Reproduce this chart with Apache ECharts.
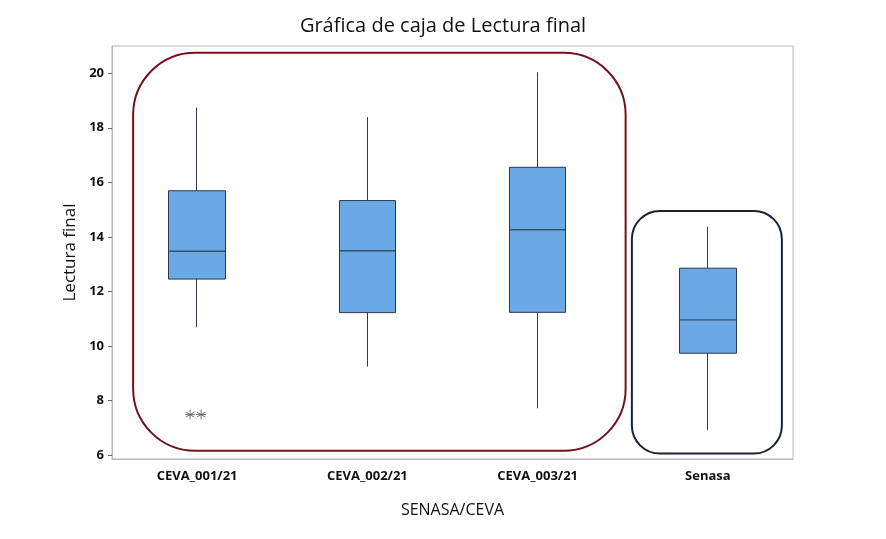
<!DOCTYPE html>
<html>
<head>
<meta charset="utf-8">
<script src="https://cdn.jsdelivr.net/npm/echarts@6/dist/echarts.min.js"></script>
<style>
  html, body { margin: 0; padding: 0; background: #fff; }
  #main { width: 886px; height: 539px; }
</style>
</head>
<body>
<div id="main"></div>
<script>
// categorias del eje X
var grupos = ['CEVA_001/21', 'CEVA_002/21', 'CEVA_003/21', 'Senasa'];
// [min, Q1, mediana, Q3, max]
var cajas = [
  [10.68, 12.45, 13.47, 15.69, 18.74],
  [9.24, 11.22, 13.49, 15.33, 18.39],
  [7.71, 11.23, 14.26, 16.55, 20.04],
  [6.92, 9.73, 10.95, 12.85, 14.37]
];
// valores atipicos (grupo, valor, desplazamiento)
var atipicos = [
  ['CEVA_001/21', 7.48, -7],
  ['CEVA_001/21', 7.48, 4]
];
var ticksY = [6, 8, 10, 12, 14, 16, 18, 20];

var chart = echarts.init(document.getElementById('main'));

var fuente = '"Open Sans", "Noto Sans", sans-serif';

// caja sin remates en los bigotes (estilo Minitab): vela [Q1, Q3, min, max]
var velas = cajas.map(function (c) { return [c[1], c[3], c[0], c[4]]; });
var medianas = cajas.map(function (c, i) { return [grupos[i], c[2]]; });

var option = {
  animation: false,
  title: {
    text: 'Gráfica de caja de Lectura final',
    left: 438,
    top: 11,
    textAlign: 'center',
    textStyle: { fontFamily: fuente, fontSize: 20, fontWeight: 'normal', color: '#111' }
  },
  grid: {
    left: 112,
    right: 93,
    top: 46,
    bottom: 80,
    show: true,
    borderColor: '#b8b8b8',
    borderWidth: 1
  },
  xAxis: {
    type: 'category',
    data: grupos,
    boundaryGap: true,
    name: 'SENASA/CEVA',
    nameLocation: 'middle',
    nameGap: 43,
    nameTextStyle: { fontFamily: fuente, fontSize: 16, color: '#111' },
    axisLine: { lineStyle: { color: '#b8b8b8' } },
    axisTick: { alignWithLabel: true, length: 4, lineStyle: { color: '#666' } },
    axisLabel: { fontFamily: fuente, fontSize: 13, fontWeight: 'bold', color: '#111', margin: 11 },
    splitLine: { show: false }
  },
  yAxis: {
    type: 'value',
    min: 5.85,
    max: 21.0,
    name: 'Lectura final',
    nameLocation: 'middle',
    nameGap: 32,
    nameTextStyle: { fontFamily: fuente, fontSize: 17, color: '#111' },
    axisLine: { show: true, lineStyle: { color: '#b8b8b8' } },
    axisTick: { show: true, length: 4, customValues: ticksY, lineStyle: { color: '#666' } },
    axisLabel: { fontFamily: fuente, fontSize: 13, fontWeight: 'bold', color: '#111', customValues: ticksY, margin: 8 },
    splitLine: { show: false }
  },
  series: [
    {
      name: 'Lectura final',
      type: 'candlestick',
      data: velas,
      barWidth: 57,
      itemStyle: {
        color: '#6ba9e6', borderColor: '#2b3a4e',
        color0: '#6ba9e6', borderColor0: '#2b3a4e', borderWidth: 1
      },
      emphasis: { disabled: true }
    },
    {
      name: 'Mediana',
      type: 'scatter',
      data: medianas,
      symbol: 'rect',
      symbolSize: [56, 1.3],
      itemStyle: { color: '#2b3a4e' },
      z: 5
    },
    {
      name: 'Atípicos',
      type: 'scatter',
      data: atipicos.map(function (a) {
        return { value: [a[0], a[1]], symbolOffset: [a[2], 0] };
      }),
      symbol: 'path://M0,-5L0,5M-4.3,-2.5L4.3,2.5M-4.3,2.5L4.3,-2.5M-5,0L5,0',
      symbolSize: 10,
      itemStyle: { color: 'none', borderColor: '#555', borderWidth: 1 }
    }
  ]
};

chart.setOption(option);

// contornos redondeados dibujados sobre la grafica (anotaciones)
function px(cat, val) {
  return chart.convertToPixel({ gridIndex: 0 }, [cat, val]);
}
var a0 = px(grupos[0], 20.75), a1 = px(grupos[2], 6.15);
var b0 = px(grupos[3], 14.95), b1 = px(grupos[3], 6.05);
chart.setOption({
  graphic: [
    {
      type: 'rect',
      shape: { x: a0[0] - 64, y: a0[1], width: (a1[0] + 88) - (a0[0] - 64), height: a1[1] - a0[1], r: 62 },
      style: { fill: 'none', stroke: '#73111f', lineWidth: 2 },
      z: 10
    },
    {
      type: 'rect',
      shape: { x: b0[0] - 76, y: b0[1], width: 150, height: b1[1] - b0[1], r: 28 },
      style: { fill: 'none', stroke: '#1b2234', lineWidth: 2 },
      z: 10
    }
  ]
});
</script>
</body>
</html>
